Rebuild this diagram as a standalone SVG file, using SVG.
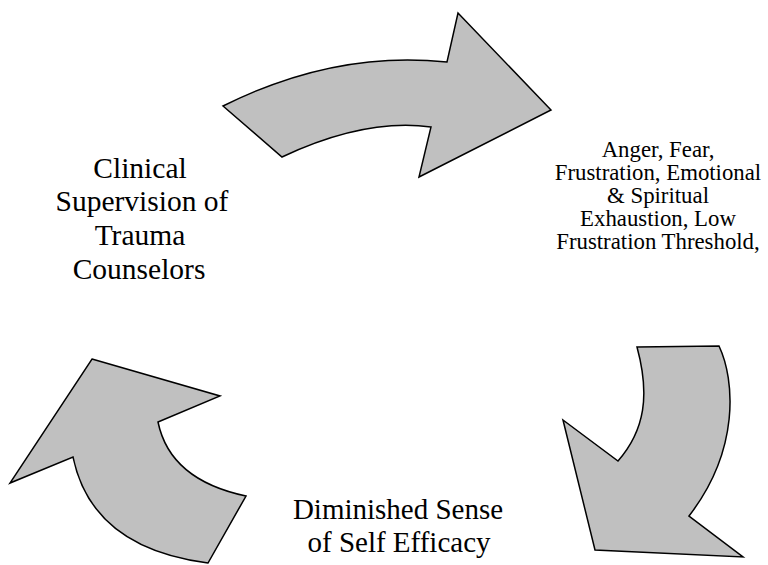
<svg xmlns="http://www.w3.org/2000/svg" width="768" height="565" viewBox="0 0 768 565">
<style>
.arrow{fill:#c0c0c0;stroke:#000;stroke-width:1.5;stroke-linejoin:miter}
.t{fill:#000;text-anchor:middle}
</style>
<rect width="768" height="565" fill="#fff"/>
<g id="connectors">
<path id="arrow-top" class="arrow" d="M223,106 Q335,50 447,62 L458,13 L551,110 L419,177 L431,127 Q365,118 282,157 Z"/>
<path id="arrow-right" class="arrow" d="M637,347 L719,346 C735,380 740,450 689,516 L743,557 L595,550 L563,420 L618,461 C645,430 650,395 637,347 Z"/>
<path id="arrow-left" class="arrow" d="M92,359 L220,396 L158,422 Q170,480 246,496 L208,563 Q92,548 73,457 L10,483 Z"/>
</g>
<g id="node-clinical">
<text class="t" font-family="Liberation Serif, DejaVu Serif, serif" font-size="29.5"><tspan x="140" y="178">Clinical</tspan><tspan x="142" y="211">Supervision of</tspan><tspan x="140" y="245">Trauma</tspan><tspan x="139" y="279">Counselors</tspan></text>
</g>
<g id="node-anger">
<text class="t" font-family="Liberation Serif, DejaVu Serif, serif" font-size="22.8"><tspan x="658" y="157">Anger, Fear,</tspan><tspan x="658" y="180">Frustration, Emotional</tspan><tspan x="658" y="203">&amp; Spiritual</tspan><tspan x="658" y="226">Exhaustion, Low</tspan><tspan x="658" y="249">Frustration Threshold,</tspan></text>
</g>
<g id="node-efficacy">
<text class="t" font-family="Liberation Serif, DejaVu Serif, serif" font-size="29"><tspan x="398" y="519">Diminished Sense</tspan><tspan x="399" y="552">of Self Efficacy</tspan></text>
</g>
</svg>
